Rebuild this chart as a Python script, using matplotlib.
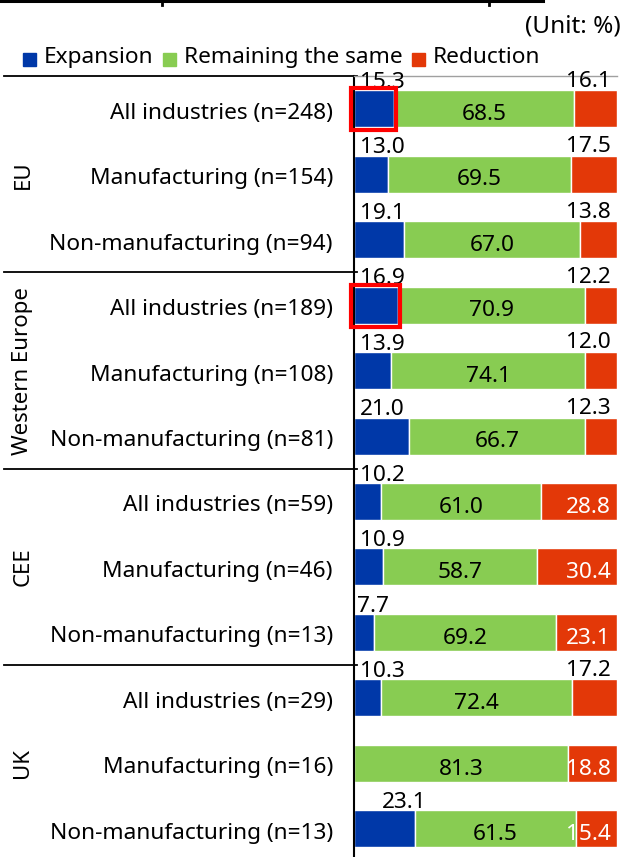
import numpy as np
import matplotlib.pyplot as plt
from matplotlib.patches import Rectangle
from matplotlib.lines import Line2D

plt.rcParams.update({'font.family': ['Noto Sans', 'DejaVu Sans']})
plt.rcParams.update({'font.size': 16})

#%% data
categories = ['All industries (n=248)', 'Manufacturing (n=154)', 'Non-manufacturing (n=94)',
              'All industries (n=189)', 'Manufacturing (n=108)', 'Non-manufacturing (n=81)',
              'All industries (n=59)', 'Manufacturing (n=46)', 'Non-manufacturing (n=13)',
              'All industries (n=29)', 'Manufacturing (n=16)', 'Non-manufacturing (n=13)']
groups = ['EU', 'Western Europe', 'CEE', 'UK']
series = ['Expansion', 'Remaining the same', 'Reduction']
expansion = [15.3, 13.0, 19.1, 16.9, 13.9, 21.0, 10.2, 10.9, 7.7, 10.3, 0.0, 23.1]
same = [68.5, 69.5, 67.0, 70.9, 74.1, 66.7, 61.0, 58.7, 69.2, 72.4, 81.3, 61.5]
reduction = [16.1, 17.5, 13.8, 12.2, 12.0, 12.3, 28.8, 30.4, 23.1, 17.2, 18.8, 15.4]
highlight = [0, 3]              # rows with red box around expansion
red_inside = [6, 7, 8, 10, 11]  # rows whose reduction label sits inside the bar

c_exp = '#0038A8'
c_same = '#88CC52'
c_red = '#E33808'
colors = [c_exp, c_same, c_red]

#%% figure
W, H = 626, 857
fig = plt.figure(figsize=(W/100, H/100), dpi=100)
ax = fig.add_axes([354/W, 0, 263/W, 1 - 76/H])

y = np.arange(len(categories))
expansion = np.array(expansion)
same = np.array(same)
reduction = np.array(reduction)
bh = 0.565
ax.barh(y, expansion, height=bh, color=c_exp, edgecolor='white', linewidth=1)
ax.barh(y, same, left=expansion, height=bh, color=c_same, edgecolor='white', linewidth=1)
ax.barh(y, reduction, left=expansion + same, height=bh, color=c_red, edgecolor='white', linewidth=1)

ax.set_xlim(0, 100)
ax.set_ylim(11.43, -0.5)
ax.set_xticks([])
ax.set_yticks([])
for s in ['right', 'bottom']:
    ax.spines[s].set_visible(False)
ax.spines['top'].set_color('#a0a0a0')
ax.spines['top'].set_linewidth(1)
ax.spines['left'].set_linewidth(1.5)

fs = 16.3
va = 'center_baseline'
for i in range(len(categories)):
    e, s, r = expansion[i], same[i], reduction[i]
    ax.text(e + s/2, i + 0.05, f'{s:.1f}', ha='center', va=va, fontsize=fs)
    if e > 0:
        if e < 9:
            xe = e - 0.5
        elif e > 22:
            xe = e - 4
        else:
            xe = 10.8
        ax.text(xe, i - 0.44, f'{e:.1f}', ha='center', va=va, fontsize=fs)
    if i in red_inside:
        ax.text(97.6, i + 0.05, f'{r:.1f}', ha='right', va=va, fontsize=fs, color='white')
    else:
        ax.text(97.6, i - 0.46, f'{r:.1f}', ha='right', va=va, fontsize=fs)

# red boxes
for i in highlight:
    ax.add_patch(Rectangle((-1.0, i - bh/2 - 0.03), expansion[i] + 1.5, bh + 0.08,
                           fill=False, edgecolor='#FF0000', linewidth=3, clip_on=False, zorder=5))

# category labels and group separators
ty = ax.get_yaxis_transform()
for i, lab in enumerate(categories):
    ax.text(-0.08, i + 0.03, lab, transform=ty, ha='right', va=va, fontsize=fs)
x_left = (4 - 354) / 263
for k, g in enumerate(groups):
    ax.text((23 - 354) / 263, 3*k + 1, g, transform=ty, rotation=90,
            ha='center', va='center', fontsize=16)
    ax.plot([x_left, 0.012], [3*k - 0.5, 3*k - 0.5], transform=ty, color='black',
            linewidth=1.3, clip_on=False)

# legend
for lab, col, xs, xt in zip(series, colors, [23, 163, 412], [44, 184, 433]):
    fig.add_artist(Rectangle((xs/W, 1 - 66/H), 13/W, 13/H, color=col, transform=fig.transFigure))
    fig.text(xt/W, 1 - 57.5/H, lab, ha='left', va='center', fontsize=fs)

fig.text(621/W, 1 - 26/H, '(Unit: %)', ha='right', va='center', fontsize=17.5)

# remains of the chart above
fig.add_artist(Line2D([0, 543/W], [1 - 1/H, 1 - 1/H], color='black', linewidth=2.2))
for xt in [162, 489]:
    fig.add_artist(Line2D([xt/W, xt/W], [1 - 1/H, 1 - 5/H], color='black', linewidth=2))

fig.savefig('out.png', dpi=100)
